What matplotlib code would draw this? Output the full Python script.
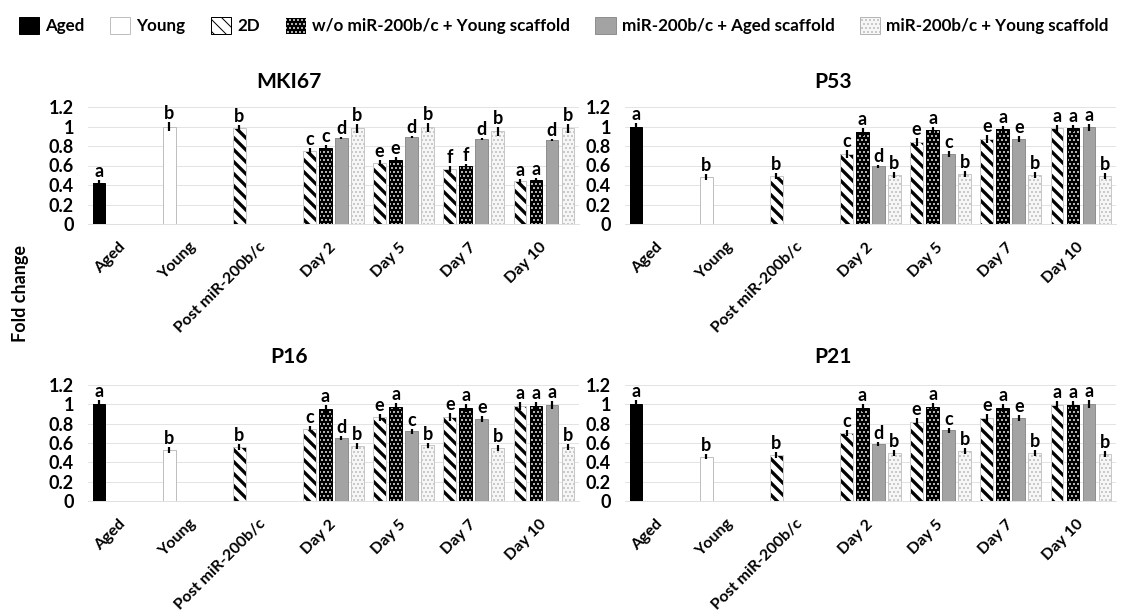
import matplotlib.pyplot as plt
import numpy as np
from matplotlib.patches import Patch
from matplotlib.transforms import ScaledTranslation
from matplotlib.ticker import FuncFormatter

plt.rcParams['font.family'] = 'Lato'
plt.rcParams['font.weight'] = 'bold'

categories = ['Aged', 'Young', 'Post miR-200b/c', 'Day 2', 'Day 5', 'Day 7', 'Day 10']
series_names = ['Aged', 'Young', '2D', 'w/o miR-200b/c + Young scaffold',
                'miR-200b/c + Aged scaffold', 'miR-200b/c + Young scaffold']

# single bars: Aged, Young, 2D (post miR-200b/c)
mki67_ctrl = [0.42, 1.00, 0.98]
mki67_ctrl_err = [0.03, 0.05, 0.04]
mki67_ctrl_lbl = ['a', 'b', 'b']
# day groups: rows = 2D, w/o + young scaffold, + aged scaffold, + young scaffold
mki67_days = [[0.75, 0.63, 0.56, 0.44],
              [0.78, 0.66, 0.59, 0.45],
              [0.885, 0.895, 0.87, 0.86],
              [0.98, 0.99, 0.95, 0.98]]
mki67_days_err = [[0.03, 0.03, 0.03, 0.02],
                  [0.03, 0.03, 0.03, 0.02],
                  [0.01, 0.01, 0.01, 0.01],
                  [0.05, 0.05, 0.05, 0.05]]
mki67_days_lbl = ['ccdb', 'eedb', 'ffdb', 'aadb']

p53_ctrl = [1.00, 0.48, 0.49]
p53_ctrl_err = [0.04, 0.03, 0.03]
p53_ctrl_lbl = ['a', 'b', 'b']
p53_days = [[0.72, 0.84, 0.87, 0.98],
            [0.94, 0.96, 0.97, 0.98],
            [0.59, 0.72, 0.87, 0.99],
            [0.50, 0.51, 0.50, 0.49]]
p53_days_err = [[0.04, 0.04, 0.04, 0.04],
                [0.04, 0.04, 0.04, 0.04],
                [0.02, 0.03, 0.03, 0.04],
                [0.03, 0.03, 0.03, 0.03]]
p53_days_lbl = ['cadb', 'eacb', 'eaeb', 'aaab']

p16_ctrl = [1.00, 0.53, 0.555]
p16_ctrl_err = [0.04, 0.03, 0.03]
p16_ctrl_lbl = ['a', 'b', 'b']
p16_days = [[0.75, 0.865, 0.87, 0.98],
            [0.95, 0.97, 0.96, 0.98],
            [0.65, 0.72, 0.85, 0.99],
            [0.57, 0.575, 0.55, 0.56]]
p16_days_err = [[0.03, 0.04, 0.04, 0.04],
                [0.04, 0.04, 0.04, 0.04],
                [0.02, 0.03, 0.03, 0.04],
                [0.03, 0.03, 0.03, 0.03]]
p16_days_lbl = ['cadb', 'eacb', 'eaeb', 'aaab']

p21_ctrl = [1.00, 0.46, 0.48]
p21_ctrl_err = [0.04, 0.03, 0.03]
p21_ctrl_lbl = ['a', 'b', 'b']
p21_days = [[0.70, 0.82, 0.855, 0.99],
            [0.96, 0.97, 0.96, 0.99],
            [0.59, 0.73, 0.855, 1.00],
            [0.50, 0.52, 0.50, 0.49]]
p21_days_err = [[0.03, 0.04, 0.04, 0.04],
                [0.04, 0.04, 0.04, 0.04],
                [0.02, 0.03, 0.03, 0.04],
                [0.03, 0.03, 0.03, 0.03]]
p21_days_lbl = ['cadb', 'eacb', 'eaeb', 'aaab']

# face, hatch colour, hatch, hatch linewidth, outline
styles = [
    dict(face='black', hc='black', hatch=None, hlw=1.0, edge='black'),
    dict(face='white', hc='white', hatch=None, hlw=1.0, edge='#bfbfbf'),
    dict(face='white', hc='black', hatch='\\\\', hlw=3.3, edge='#c8c8c8'),
    dict(face='black', hc='white', hatch='...', hlw=1.0, edge='black'),
    dict(face='#a3a3a3', hc='#a3a3a3', hatch=None, hlw=1.0, edge='#8f8f8f'),
    dict(face='#f6f6f6', hc='#b5b5b5', hatch='...', hlw=1.0, edge='#c8c8c8'),
]

slot = 0.228
width = 0.18


def styled_bar(ax, xs, hs, st):
    with plt.rc_context({'hatch.linewidth': st['hlw']}):
        ax.bar(xs, hs, width, color=st['face'], edgecolor=st['hc'],
               hatch=st['hatch'], linewidth=0, zorder=2)
    ax.bar(xs, hs, width, fill=False, edgecolor=st['edge'], linewidth=1, zorder=3)


def marks(ax, xs, hs, errs, lbls):
    ax.errorbar(xs, hs, yerr=errs, fmt='none', ecolor='black',
                elinewidth=2.2, capsize=0, zorder=4)
    for xx, h, e, l in zip(xs, hs, errs, lbls):
        ax.annotate(l, (xx, h + e), xytext=(0, 0), textcoords='offset points',
                    ha='center', va='bottom', fontsize=18)


def draw_panel(ax, ctrl, ctrl_err, ctrl_lbl, days, days_err, days_lbl):
    x = np.arange(len(categories))
    # Aged, Young, 2D single bars sit in the first slot
    for i in range(3):
        xs = [x[i] - 1.5 * slot]
        styled_bar(ax, xs, [ctrl[i]], styles[i])
        marks(ax, xs, [ctrl[i]], [ctrl_err[i]], [ctrl_lbl[i]])
    xd = x[3:]
    for k in range(4):
        xs = xd + (k - 1.5) * slot
        styled_bar(ax, xs, days[k], styles[k + 2])
        marks(ax, xs, days[k], days_err[k], [s[k] for s in days_lbl])

    ax.set_xlim(-0.5, 6.5)
    ax.set_ylim(0, 1.2)
    ax.set_yticks(np.arange(0, 1.21, 0.2))
    ax.yaxis.set_major_formatter(FuncFormatter(lambda v, p: '%g' % round(v, 1)))
    ax.yaxis.grid(True, color='#e3e3e3', linewidth=1)
    ax.set_axisbelow(True)
    for s in ['top', 'right', 'left']:
        ax.spines[s].set_visible(False)
    ax.spines['bottom'].set_color('#d9d9d9')
    ax.tick_params(length=0, labelsize=18)
    ax.tick_params(axis='y', pad=14)
    ax.set_xticks(x)
    ax.set_xticklabels(categories, fontsize=16)
    off = ScaledTranslation(5 / 72, 0, ax.figure.dpi_scale_trans)
    for lab in ax.get_xticklabels():
        lab.set_rotation(45)
        lab.set_ha('right')
        lab.set_va('center')
        lab.set_rotation_mode('anchor')
        lab.set_transform(lab.get_transform() + off)
    ax.tick_params(axis='x', pad=21)


fig = plt.figure(figsize=(1124 / 72, 615 / 72), dpi=72)
W, H = 1124.0, 615.0
ax1 = fig.add_axes([88 / W, 1 - 224 / H, 491 / W, 117 / H])
ax2 = fig.add_axes([625 / W, 1 - 224 / H, 491 / W, 117 / H])
ax3 = fig.add_axes([88 / W, 1 - 501 / H, 491 / W, 116 / H])
ax4 = fig.add_axes([625 / W, 1 - 501 / H, 491 / W, 116 / H])

draw_panel(ax1, mki67_ctrl, mki67_ctrl_err, mki67_ctrl_lbl, mki67_days, mki67_days_err, mki67_days_lbl)
draw_panel(ax2, p53_ctrl, p53_ctrl_err, p53_ctrl_lbl, p53_days, p53_days_err, p53_days_lbl)
draw_panel(ax3, p16_ctrl, p16_ctrl_err, p16_ctrl_lbl, p16_days, p16_days_err, p16_days_lbl)
draw_panel(ax4, p21_ctrl, p21_ctrl_err, p21_ctrl_lbl, p21_days, p21_days_err, p21_days_lbl)

fig.text(289 / W, 1 - 82 / H, 'MKI67', ha='center', va='center', fontsize=21)
fig.text(833 / W, 1 - 82 / H, 'P53', ha='center', va='center', fontsize=21)
fig.text(289 / W, 1 - 357 / H, 'P16', ha='center', va='center', fontsize=21)
fig.text(833 / W, 1 - 357 / H, 'P21', ha='center', va='center', fontsize=21)
fig.text(21 / W, 1 - 293 / H, 'Fold change', rotation=90, ha='center', va='center', fontsize=18)

handles = []
for st in styles:
    with plt.rc_context({'hatch.linewidth': st['hlw']}):
        ec = st['hc'] if st['hatch'] else st['edge']
        handles.append(Patch(facecolor=st['face'], edgecolor=ec, hatch=st['hatch'], linewidth=1))
fig.legend(handles, series_names, loc='upper left', bbox_to_anchor=(12 / W, 1 - 10 / H),
           ncol=6, frameon=False, fontsize=17, handlelength=1.2, handleheight=1.2,
           handletextpad=0.35, columnspacing=1.5, borderaxespad=0)

fig.savefig('out.png', dpi=72)
